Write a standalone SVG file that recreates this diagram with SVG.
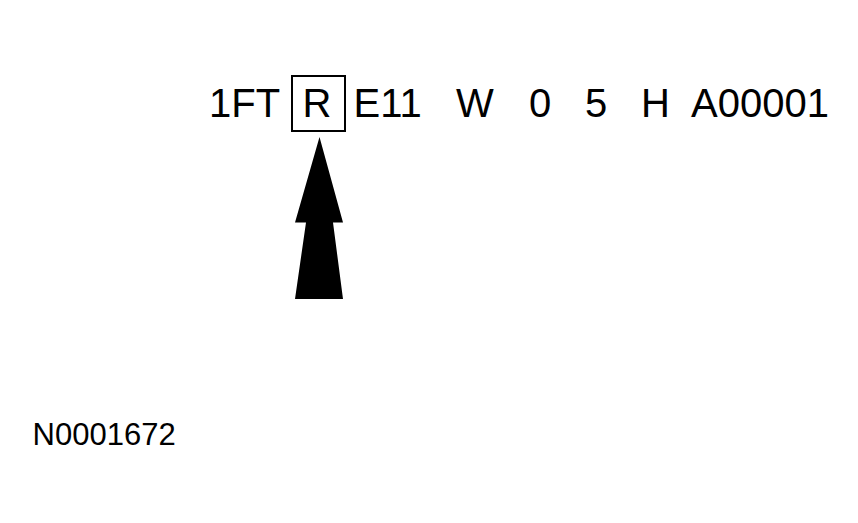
<svg xmlns="http://www.w3.org/2000/svg" width="858" height="523" viewBox="0 0 858 523">
<style>
.t{font-family:"Liberation Sans",Arial,sans-serif;font-size:40px;fill:#000}
.n{font-family:"Liberation Sans",Arial,sans-serif;font-size:31px;fill:#000}
</style>
<rect width="858" height="523" fill="#fff"/>
<g id="vin">
<text class="t" x="209" y="117">1FT</text>
<text class="t" x="302.5" y="117">R</text>
<text class="t" x="353.5" y="117">E11</text>
<text class="t" x="456" y="117">W</text>
<text class="t" x="529" y="117">0</text>
<text class="t" x="585" y="117">5</text>
<text class="t" x="641" y="117">H</text>
<text class="t" x="691" y="117">A00001</text>
</g>
<g id="box">
<rect x="292" y="76" width="53" height="55" fill="none" stroke="#000" stroke-width="2"/>
</g>
<g id="arrow">
<polygon points="319.5,137 343,222.5 333,222.5 343,299 295,299 306,222.5 295,222.5" fill="#000"/>
</g>
<g id="ref">
<text class="n" x="32.6" y="445">N0001672</text>
</g>
</svg>
